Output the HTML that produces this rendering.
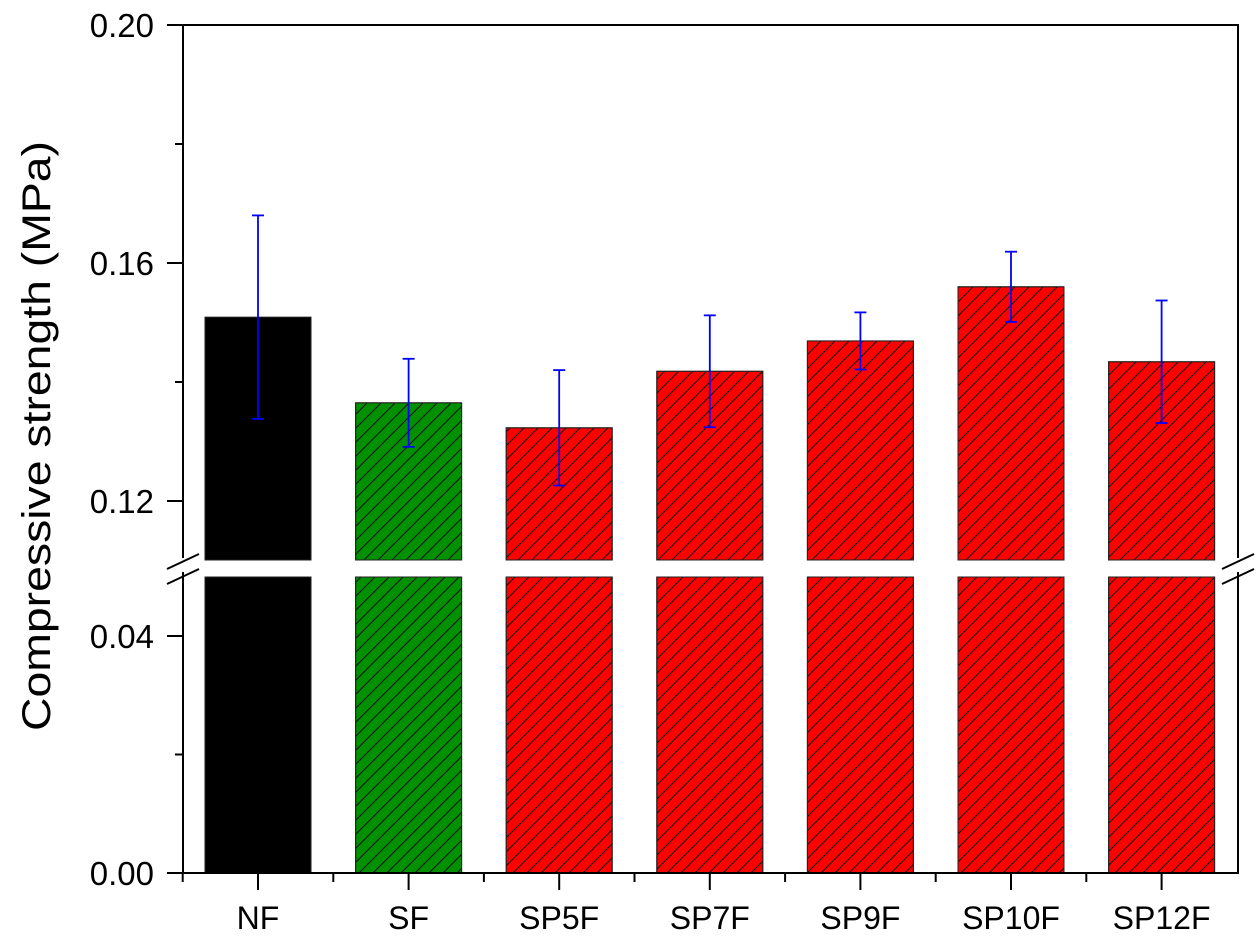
<!DOCTYPE html>
<html><head><meta charset="utf-8"><style>
html,body{margin:0;padding:0;background:#fff;}
svg text{font-family:"Liberation Sans",Arial,sans-serif;}
</style></head><body>
<svg id="chart" width="1260" height="940" viewBox="0 0 1260 940" xmlns="http://www.w3.org/2000/svg">
<defs>
<pattern id="hatch" patternUnits="userSpaceOnUse" width="14" height="14">
<path d="M-3,3 L3,-3 M0,14 L14,0 M11,17 L17,11" stroke="#111" stroke-width="1"/>
</pattern>
</defs>
<g id="plot"></g>
</svg>
<script>
const categories = ["NF","SF","SP5F","SP7F","SP9F","SP10F","SP12F"];
const values = [0.1509,0.1365,0.1323,0.1418,0.1469,0.1560,0.1434];
const errors = [0.0171,0.0074,0.0097,0.0094,0.0048,0.0059,0.0103];
const fills = ["#000000","#009000","#ff0000","#ff0000","#ff0000","#ff0000","#ff0000"];
const hatched = [false,true,true,true,true,true,true];
const upperTicks = [0.12,0.16,0.20];
const upperMinor = [0.14,0.18];
const lowerTicks = [0.00,0.04];
const lowerMinor = [0.02];

const NS="http://www.w3.org/2000/svg";
const g=document.getElementById('plot');
const L=183,R=1238,T=25,B=873;
const upBot=560, loTop=577;
function yUp(v){return 25+(0.20-v)/0.04*238;}
function yLo(v){return 873-v/0.04*237;}
const x0=258, step=150.6, bw=106;
function xc(i){return x0+i*step;}
function el(tag,attrs,parent){const e=document.createElementNS(NS,tag);for(const k in attrs)e.setAttribute(k,attrs[k]);(parent||g).appendChild(e);return e;}

categories.forEach((c,i)=>{
  const x=xc(i)-bw/2;
  const yt=yUp(values[i]);
  const r1=el('rect',{x:x,y:yt,width:bw,height:upBot-yt,fill:fills[i],stroke:'#222','stroke-width':1});
  
  
  const r2=el('rect',{x:x,y:loTop,width:bw,height:B-loTop,fill:fills[i],stroke:'#222','stroke-width':1});
  
  
  if(hatched[i]){
    el('rect',{x:x,y:yt,width:bw,height:upBot-yt,fill:'url(#hatch)',stroke:'#222','stroke-width':1});
    el('rect',{x:x,y:loTop,width:bw,height:B-loTop,fill:'url(#hatch)',stroke:'#222','stroke-width':1});
  }
  const cx=xc(i), ya=yUp(values[i]+errors[i]), yb=yUp(values[i]-errors[i]);
  const eg=el('g',{stroke:'#0000ff','stroke-width':1.8});
  
  
  el('line',{x1:cx,y1:ya,x2:cx,y2:yb},eg);
  el('line',{x1:cx-6,y1:ya,x2:cx+6,y2:ya},eg);
  el('line',{x1:cx-6,y1:yb,x2:cx+6,y2:yb},eg);
  const t=el('text',{x:cx,y:929,'font-size':32,'text-anchor':'middle',fill:'#000'});
  t.textContent=c;
  
  
  el('line',{x1:cx,y1:B,x2:cx,y2:B+17,stroke:'#000','stroke-width':2});
  el('line',{x1:cx-step/2,y1:B,x2:cx-step/2,y2:B+9,stroke:'#000','stroke-width':2});
});

const ax=el('g',{stroke:'#000','stroke-width':2,fill:'none'});


el('path',{d:`M${L},558 L${L},${T} L${R},${T} L${R},558`},ax);
el('path',{d:`M${L},572 L${L},${B} L${R},${B} L${R},572`},ax);
[L,R].forEach(x=>{
  el('line',{x1:x-16,y1:569,x2:x+16,y2:554},ax);
  el('line',{x1:x-16,y1:584,x2:x+16,y2:569},ax);
});
function tick(y,len,label){
  el('line',{x1:L-len,y1:y,x2:L,y2:y},ax);
  if(label!==undefined){
    const t=el('text',{x:154,y:y+12,'font-size':33,'text-anchor':'end',fill:'#000',stroke:'none'});
    t.textContent=label;
    
    
  }
}
upperTicks.forEach(v=>tick(yUp(v),16,v.toFixed(2)));
upperMinor.forEach(v=>tick(yUp(v),8));
lowerTicks.forEach(v=>tick(yLo(v),16,v.toFixed(2)));
lowerMinor.forEach(v=>tick(yLo(v),8));

const yt=el('text',{x:0,y:0,'font-size':40,'text-anchor':'middle',fill:'#000',textLength:590,lengthAdjust:'spacingAndGlyphs',transform:'translate(50,436) rotate(-90)'});
yt.textContent='Compressive strength (MPa)';


</script>
</body></html>
